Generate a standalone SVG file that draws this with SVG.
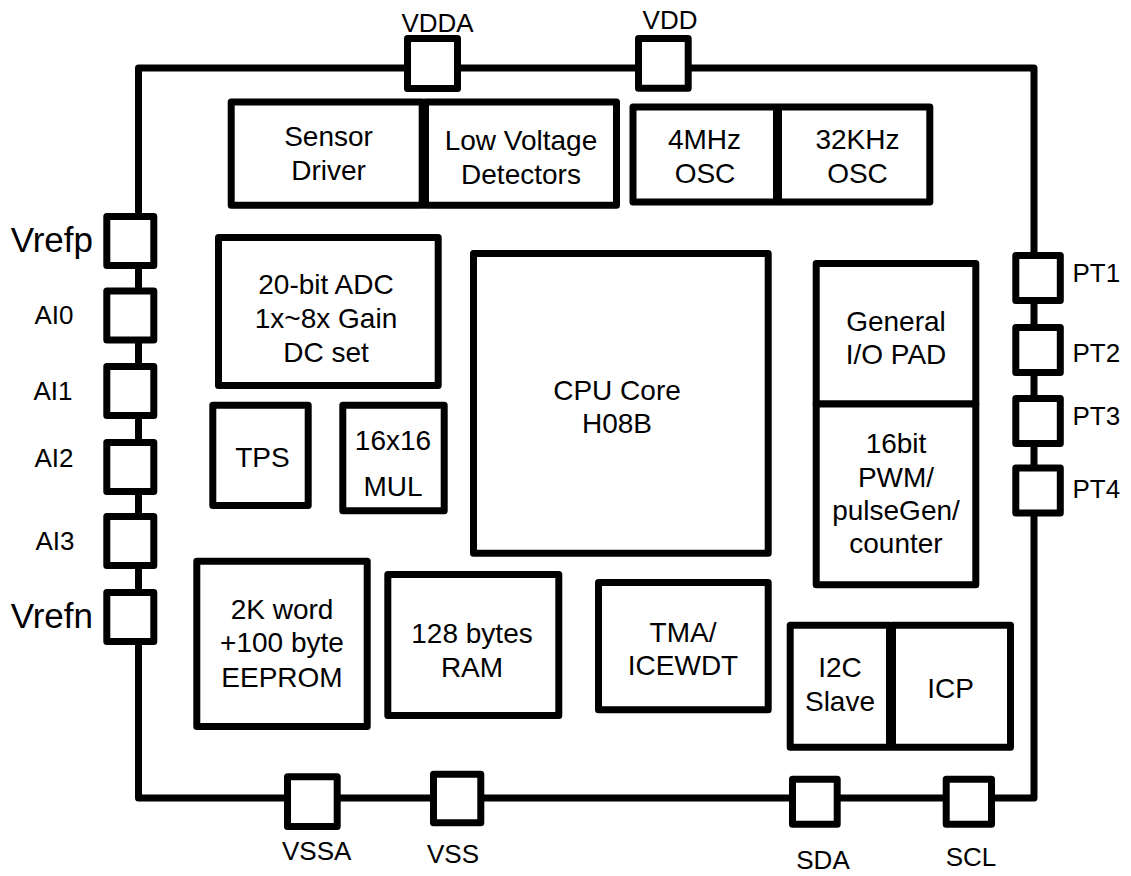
<svg xmlns="http://www.w3.org/2000/svg" width="1131" height="876" viewBox="0 0 1131 876">
<style>
.blk{fill:#fff;stroke:#000;stroke-width:7;stroke-linejoin:round}
.frame{fill:none;stroke:#000;stroke-width:7;stroke-linejoin:round}
text{font-family:"Liberation Sans",Arial,sans-serif;fill:#000}
.t{font-size:28px;text-anchor:middle}
.p{font-size:26px}
.pm{font-size:26px;text-anchor:middle}
.big{font-size:35px;text-anchor:end}
</style>
<rect width="1131" height="876" fill="#fff"/>
<g id="connectors">
<rect class="frame" x="138.5" y="68" width="895.5" height="730"/>
</g>
<g id="pin-VDDA"><rect class="blk" x="407.5" y="38.5" width="50" height="50"/><text class="pm" x="437.5" y="32">VDDA</text></g>
<g id="pin-VDD"><rect class="blk" x="638.5" y="38.5" width="49.7" height="49.7"/><text class="pm" x="670" y="28.5">VDD</text></g>
<g id="pin-Vrefp"><rect class="blk" x="106.8" y="216.5" width="47" height="49"/><text class="big" x="93" y="252">Vrefp</text></g>
<g id="pin-AI0"><rect class="blk" x="106.8" y="291" width="47" height="49"/><text class="pm" x="54" y="324">AI0</text></g>
<g id="pin-AI1"><rect class="blk" x="106.8" y="366.5" width="47" height="49"/><text class="pm" x="53" y="400">AI1</text></g>
<g id="pin-AI2"><rect class="blk" x="106.8" y="442.5" width="47" height="49"/><text class="pm" x="54" y="467">AI2</text></g>
<g id="pin-AI3"><rect class="blk" x="106.8" y="516.5" width="47" height="49"/><text class="pm" x="55" y="550">AI3</text></g>
<g id="pin-Vrefn"><rect class="blk" x="106.8" y="592.5" width="47" height="49"/><text class="big" x="93" y="628">Vrefn</text></g>
<g id="pin-PT1"><rect class="blk" x="1015.8" y="255.5" width="44.5" height="45"/><text class="p" x="1072.5" y="282">PT1</text></g>
<g id="pin-PT2"><rect class="blk" x="1015.8" y="327.5" width="44.5" height="45"/><text class="p" x="1072.5" y="362">PT2</text></g>
<g id="pin-PT3"><rect class="blk" x="1015.8" y="398.5" width="44.5" height="45"/><text class="p" x="1072.5" y="425">PT3</text></g>
<g id="pin-PT4"><rect class="blk" x="1015.8" y="468" width="44.5" height="45"/><text class="p" x="1072.5" y="498">PT4</text></g>
<g id="pin-VSSA"><rect class="blk" x="287.5" y="776.8" width="49.7" height="49.7"/><text class="pm" x="316.7" y="860">VSSA</text></g>
<g id="pin-VSS"><rect class="blk" x="433.5" y="774.2" width="47.3" height="48.5"/><text class="pm" x="453" y="863">VSS</text></g>
<g id="pin-SDA"><rect class="blk" x="792.5" y="779.2" width="44.7" height="45"/><text class="pm" x="823" y="869">SDA</text></g>
<g id="pin-SCL"><rect class="blk" x="946.2" y="779.2" width="45.3" height="45"/><text class="pm" x="971" y="866">SCL</text></g>
<g id="sensor-driver"><rect class="blk" x="231.2" y="102" width="191" height="103.3"/><text class="t" x="328.5" y="146">Sensor</text><text class="t" x="328.5" y="179.5">Driver</text></g>
<g id="low-voltage"><rect class="blk" x="425.5" y="102" width="191" height="103.3"/><text class="t" x="521" y="150">Low Voltage</text><text class="t" x="521" y="183.5">Detectors</text></g>
<g id="osc-4mhz"><rect class="blk" x="633" y="107" width="143.5" height="95"/><text class="t" x="704.5" y="149.3">4MHz</text><text class="t" x="705" y="182.7">OSC</text></g>
<g id="osc-32khz"><rect class="blk" x="778.5" y="107" width="151.3" height="95"/><text class="t" x="857.5" y="149.3">32KHz</text><text class="t" x="857.5" y="182.7">OSC</text></g>
<g id="adc"><rect class="blk" x="218.5" y="237.5" width="219.7" height="148"/><text class="t" x="326" y="294">20-bit ADC</text><text class="t" x="326" y="328">1x~8x Gain</text><text class="t" x="326" y="362">DC set</text></g>
<g id="tps"><rect class="blk" x="212.8" y="405.2" width="95.4" height="100.3"/><text class="t" x="262.5" y="466.7">TPS</text></g>
<g id="mul"><rect class="blk" x="342.8" y="405.2" width="101.4" height="105.6"/><text class="t" x="393" y="450">16x16</text><text class="t" x="393" y="496">MUL</text></g>
<g id="cpu"><rect class="blk" x="473.5" y="253.5" width="294.7" height="299.7"/><text class="t" x="617" y="400">CPU Core</text><text class="t" x="617" y="433">H08B</text></g>
<g id="gpio"><rect class="blk" x="816.2" y="263.5" width="159.6" height="140.5"/><text class="t" x="896" y="331">General</text><text class="t" x="896" y="364">I/O PAD</text></g>
<g id="pwm"><rect class="blk" x="816.2" y="404" width="159.6" height="180.8"/><text class="t" x="896" y="453">16bit</text><text class="t" x="896" y="487">PWM/</text><text class="t" x="896" y="520">pulseGen/</text><text class="t" x="896" y="553">counter</text></g>
<g id="eeprom"><rect class="blk" x="196.8" y="561.2" width="170.4" height="165.3"/><text class="t" x="282" y="619.3">2K word</text><text class="t" x="282" y="652">+100 byte</text><text class="t" x="282" y="686.7">EEPROM</text></g>
<g id="ram"><rect class="blk" x="387.8" y="574.5" width="171" height="141"/><text class="t" x="472" y="643.3">128 bytes</text><text class="t" x="472" y="677.3">RAM</text></g>
<g id="tma"><rect class="blk" x="598.5" y="582.5" width="169.7" height="127.3"/><text class="t" x="683" y="641.7">TMA/</text><text class="t" x="683" y="675">ICEWDT</text></g>
<g id="i2c"><rect class="blk" x="790.2" y="625.2" width="99.3" height="122"/><text class="t" x="840" y="677.3">I2C</text><text class="t" x="840" y="710.7">Slave</text></g>
<g id="icp"><rect class="blk" x="892.5" y="625.2" width="118" height="122"/><text class="t" x="950.5" y="698.3">ICP</text></g>
</svg>
